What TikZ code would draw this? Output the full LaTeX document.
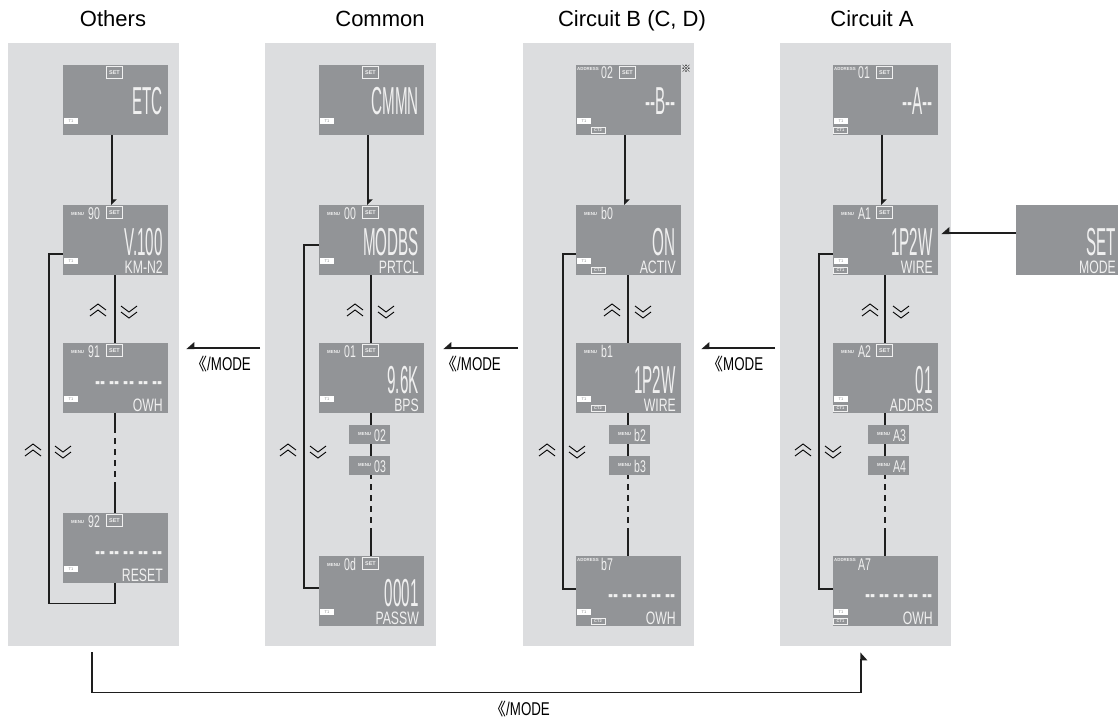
\documentclass[tikz,border=0pt]{standalone}
\usepackage{fontspec}
\setmainfont{Liberation Sans}
\newfontfamily\cjkfont{Noto Sans CJK SC}
\newfontfamily\lcdbig{Liberation Sans}[FakeStretch=0.39]
\newfontfamily\lcdsmall{Liberation Sans}[FakeStretch=0.68]
\newfontfamily\lcdnum{Liberation Sans}[FakeStretch=0.62]
\newfontfamily\narrowfont{Liberation Sans}[FakeStretch=0.72]
\usetikzlibrary{arrows.meta, positioning}
\definecolor{panelgray}{RGB}{220,221,223}
\definecolor{lcdgray}{RGB}{146,148,151}
\definecolor{lcdwhite}{RGB}{240,240,240}
\definecolor{wireblack}{RGB}{30,30,30}
\newcommand{\lcddash}{-- -- -- -- --}
\newcommand{\dblangle}{{\cjkfont\fontsize{17}{17}\selectfont 《}}

\begin{document}
\begin{tikzpicture}[x=1pt, y=-1pt,
  panel/.style={fill=panelgray,minimum width=171pt,minimum height=603pt,
                inner sep=0pt,anchor=north west},
  title/.style={font=\fontsize{22}{26}\selectfont,anchor=base},
  lcd/.style={fill=lcdgray,minimum width=105pt,minimum height=70pt,
              inner sep=0pt,anchor=north west},
  menubox/.style={fill=lcdgray,minimum width=41pt,minimum height=19pt,
                  inner sep=0pt,anchor=north west},
  bigtxt/.style={font=\lcdbig\fontsize{39}{39}\selectfont,text=lcdwhite,
                 inner sep=0pt,text depth=0pt,anchor=base east},
  subtxt/.style={font=\lcdsmall\fontsize{18}{18}\selectfont,text=lcdwhite,
                 inner sep=0pt,text depth=0pt,anchor=base east},
  numtxt/.style={font=\lcdnum\fontsize{17}{17}\selectfont,text=lcdwhite,
                 inner sep=0pt,text depth=0pt,anchor=base west},
  tagtxt/.style={font=\fontsize{4.4}{4.4}\selectfont\bfseries,text=lcdwhite,
                 inner sep=0pt,anchor=west},
  setbox/.style={draw=lcdwhite,line width=0.6pt,minimum width=16pt,minimum height=12pt,
                 inner sep=0pt,font=\fontsize{5.5}{5.5}\selectfont\bfseries,text=lcdwhite},
  tbox/.style={fill=white,minimum width=14pt,minimum height=6pt,inner sep=0pt,
               font=\fontsize{4}{4}\selectfont,text=lcdgray},
  ctbox/.style={draw=lcdwhite,line width=0.5pt,minimum width=14pt,minimum height=6pt,
                inner sep=0pt,font=\fontsize{4}{4}\selectfont\bfseries,text=lcdwhite},
  wire/.style={draw=wireblack,line width=1.6pt},
  arr/.style={wire,-{Triangle[harpoon,length=5pt,width=10pt]}},
  arrs/.style={wire,-{Triangle[harpoon,swap,length=7pt,width=12pt]}},
  dashlong/.style={dash pattern=on 20pt off 5pt on 6pt off 5pt on 6pt off 5pt
                   on 6pt off 5pt on 6pt off 5pt on 40pt off 1pt},
  dashshort/.style={dash pattern=on 4pt off 5pt on 6pt off 5pt on 6pt off 5pt
                    on 6pt off 5pt on 6pt off 5pt on 40pt off 1pt},
  modelbl/.style={font=\narrowfont\fontsize{18.5}{20}\selectfont,inner sep=0pt,anchor=base west},
  chevup/.pic={\draw[line width=0.9pt] (-8,-1) -- (0,-7) -- (8,-1) (-8,5) -- (0,-1) -- (8,5);},
  chevdown/.pic={\draw[line width=0.9pt] (-8,1) -- (0,7) -- (8,1) (-8,-5) -- (0,1) -- (8,-5);}
]
\useasboundingbox (0,0) rectangle (1118,722);

% Panels
\foreach \id/\x in {others/8, common/265, cirb/523, cira/780}
  \node[panel] (\id) at (\x,43) {};

% Titles
\node[title] (t-others) at (113,27) {Others};
\node[title] (t-common) at (380,27) {Common};
\node[title] (t-cirb) at (632,27) {Circuit B (C, D)};
\node[title] (t-cira) at (872,27) {Circuit A};

% LCD screens
\foreach \id/\x/\y/\main/\sub in {
  o0/63/65/ETC/, o1/63/205/V.100/KM-N2, o2/63/343/\lcddash/OWH, o3/63/513/\lcddash/RESET,
  c0/319/65/CMMN/, c1/319/205/MODBS/PRTCL, c2/319/343/9.6K/BPS, c3/319/556/0001/PASSW,
  b0/576/65/--B--/, b1/576/205/ON/ACTIV, b2/576/343/1P2W/WIRE, b3/576/556/\lcddash/OWH,
  a0/833/65/--A--/, a1/833/205/1P2W/WIRE, a2/833/343/01/ADDRS, a3/833/556/\lcddash/OWH,
  sm/1016/205/SET/MODE} {
  \node[lcd] (\id) at (\x,\y) {};
  \node[bigtxt] (\id-main) at ([shift={(100,50)}]\id.north west) {\main};
  \node[subtxt] (\id-sub) at ([shift={(100,68)}]\id.north west) {\sub};
}

% Menu and address numbers
\foreach \id/\num in {o1/90, o2/91, o3/92, c1/00, c2/01, c3/0d, b1/b0, b2/b1, a1/A1, a2/A2} {
  \node[tagtxt] (\id-tag) at ([shift={(8,9)}]\id.north west) {MENU};
  \node[numtxt] (\id-num) at ([shift={(25,14)}]\id.north west) {\num};
}
\foreach \id/\num in {b0/02, b3/b7, a0/01, a3/A7} {
  \node[tagtxt] (\id-tag) at ([shift={(1,4)}]\id.north west) {ADDRESS};
  \node[numtxt] (\id-num) at ([shift={(25,14)}]\id.north west) {\num};
}

% SET, T1, CT marks
\foreach \id in {o0,o1,o2,o3,c0,c1,c2,c3,b0,a0,a1,a2}
  \node[setbox] (\id-set) at ([shift={(51.5,7.5)}]\id.north west) {SET};
\foreach \id in {o0,o1,o2,o3,c0,c1,c2,c3,b0,b1,b2,b3,a0,a1,a2,a3}
  \node[tbox] (\id-t1) at ([shift={(8,56)}]\id.north west) {T1};
\foreach \id in {b0,b1,b2,b3}
  \node[ctbox] (\id-ct) at ([shift={(22,65)}]\id.north west) {CT2};
\foreach \id in {a0,a1,a2,a3}
  \node[ctbox] (\id-ct) at ([shift={(7.5,65)}]\id.north west) {CT1};

\node[font=\cjkfont\fontsize{10}{10}\selectfont,inner sep=0pt] (note) at (686,69) {※};

% Small menu boxes
\foreach \id/\x/\y/\num in {c4/349/425/02, c5/349/456/03, b4/609/425/b2,
                            b5/609/456/b3, a4/868/425/A3, a5/868/456/A4} {
  \node[menubox] (\id) at (\x,\y) {};
  \node[tagtxt] (\id-tag) at ([shift={(9,9.5)}]\id.north west) {MENU};
  \node[numtxt] (\id-num) at ([shift={(25,16)}]\id.north west) {\num};
}

% Connectors in the columns
\foreach \col in {o,c,b,a} {
  \draw[arr] ([xshift=-4pt]\col0.south) -- ([xshift=-4pt]\col1.north);
  \draw[wire] ([xshift=-1pt]\col1.south) -- ([xshift=-1pt]\col2.north);
}
\draw[wire,dashlong] ([xshift=-1pt]o2.south) -- ([xshift=-1pt]o3.north);
\foreach \col in {c,b,a} {
  \draw[wire] ([xshift=-1pt]\col2.south) -- ([xshift=-1pt]\col2.south |- \col4.north);
  \draw[wire] ([xshift=-1pt]\col2.south |- \col4.south) -- ([xshift=-1pt]\col2.south |- \col5.north);
  \draw[wire,dashshort] ([xshift=-1pt]\col2.south |- \col5.south) -- ([xshift=-1pt]\col2.south |- \col3.north);
}

% Loops back to the first menu
\draw[wire] ([yshift=-14pt]o1.west) -- ++(-14,0) |- ([xshift=-1pt,yshift=-20pt]o3.south)
  -- ([xshift=-1pt]o3.south);
\draw[wire] ([yshift=-5pt]c1.west) -- ++(-15,0) |- ([yshift=3pt]c3.west);
\draw[wire] ([yshift=-14pt]b1.west) -- ++(-13,0) |- ([yshift=2pt]b3.west);
\draw[wire] ([yshift=-14pt]a1.west) -- ++(-14,0) |- ([yshift=2pt]a3.west);

% Up and down keys
\foreach \x in {114,371,628,886} {
  \pic at (\x-16,311) {chevup};
  \pic at (\x+15,311) {chevdown};
}
\foreach \x in {49,304,563,819} {
  \pic at (\x-16,451) {chevup};
  \pic at (\x+14,451) {chevdown};
}

% MODE key between the groups
\draw[arrs] ([xshift=-5pt,yshift=-3.5pt]common.west) -- ([xshift=7pt,yshift=-3.5pt]others.east);
\draw[arrs] ([xshift=-5pt,yshift=-3.5pt]cirb.west) -- ([xshift=7pt,yshift=-3.5pt]common.east);
\draw[arrs] ([xshift=-5pt,yshift=-3.5pt]cira.west) -- ([xshift=7pt,yshift=-3.5pt]cirb.east);
\draw[arrs] ([yshift=7pt]sm.west) -- ([xshift=3pt,yshift=7pt]a1.east);
\draw[arrs] ([xshift=-1.5pt,yshift=-6pt]others.south) -- ++(0,40)
  -| ([xshift=-4.5pt,yshift=-6pt]cira.south);

\node[modelbl] (m1) at (190,370) {\dblangle/MODE};
\node[modelbl] (m2) at (440,370) {\dblangle/MODE};
\node[modelbl] (m3) at (706,370) {\dblangle MODE};
\node[modelbl] (m4) at (489,715) {\dblangle/MODE};

\end{tikzpicture}
\end{document}
